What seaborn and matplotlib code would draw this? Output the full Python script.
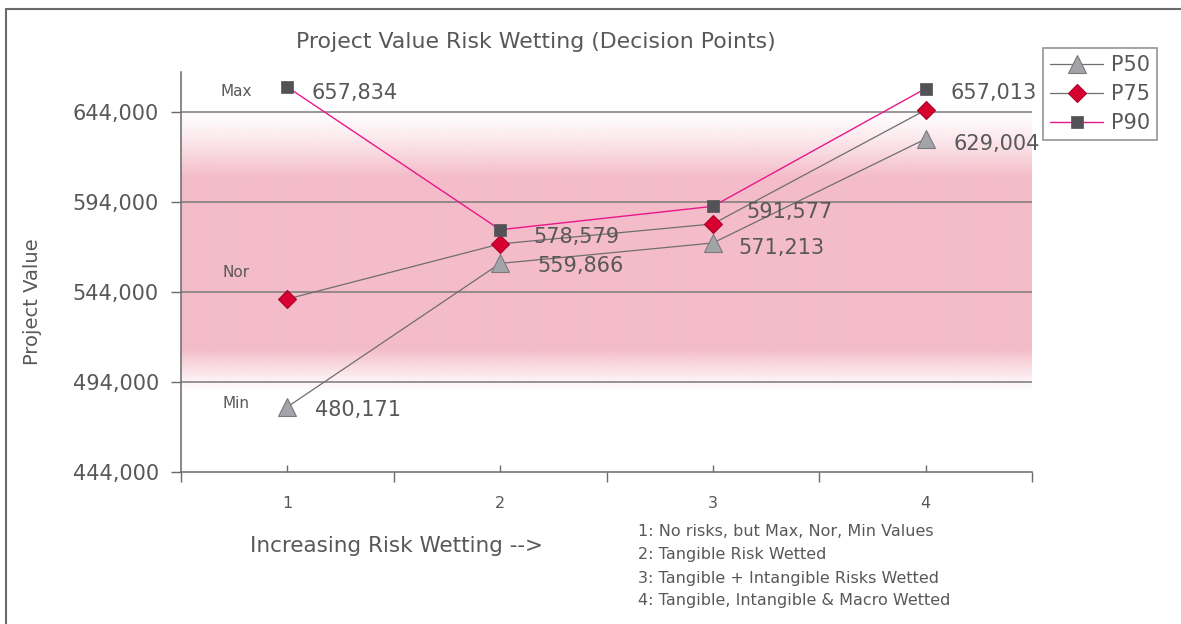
import numpy as np
import pandas as pd
import matplotlib
matplotlib.use("Agg")
import matplotlib.pyplot as plt
from matplotlib.lines import Line2D
import seaborn as sns

# ---- data ----
decision_points = [1, 2, 3, 4]
p50 = [480171, 559866, 571213, 629004]
p75 = [540100, 570700, 581800, 645100]
p90 = [657834, 578579, 591577, 657013]
series_names = ["P50", "P75", "P90"]
y_ticks = [444000, 494000, 544000, 594000, 644000]
range_labels = ["Max", "Nor", "Min"]
notes = ["1: No risks, but Max, Nor, Min Values",
         "2: Tangible Risk Wetted",
         "3: Tangible + Intangible Risks Wetted",
         "4: Tangible, Intangible & Macro Wetted"]
title = "Project Value Risk Wetting (Decision Points)"
x_title = "Increasing Risk Wetting -->"
y_title = "Project Value"

# ---- style ----
sns.set_theme(style="white")
plt.rcParams["font.family"] = ["DejaVu Sans"]
TXT = "#58585a"
GRID = "#7a7a7a"
PINK = (0xF4 / 255, 0xBC / 255, 0xC9 / 255)

W, H = 1181, 624
fig = plt.figure(figsize=(W / 100, H / 100), dpi=100)
fig.patch.set_facecolor("white")
L, R, T, B = 181, 1032, 72, 472
ax = fig.add_axes([L / W, 1 - B / H, (R - L) / W, (B - T) / H])
ax.set_facecolor("white")

ymin, ymax = 444000, 666200
ax.set_xlim(0.5, 4.5)
ax.set_ylim(ymin, ymax)

# gradient band
vals = np.linspace(ymin, ymax, 600)
alpha = np.zeros_like(vals)
top_hi, top_lo, bot_hi, bot_lo = 644300, 608000, 512000, 487500
m = (vals <= top_hi) & (vals > top_lo)
alpha[m] = 0.03 + 0.97 * ((top_hi - vals[m]) / (top_hi - top_lo)) ** 1.3
alpha[(vals <= top_lo) & (vals >= bot_hi)] = 1
m = (vals < bot_hi) & (vals >= bot_lo)
alpha[m] = ((vals[m] - bot_lo) / (bot_hi - bot_lo)) ** 1.3
img = np.zeros((len(vals), 1, 4))
img[:, 0, 0], img[:, 0, 1], img[:, 0, 2] = PINK
img[:, 0, 3] = alpha
ax.imshow(img, extent=[0.5, 4.5, ymin, ymax], origin="lower", aspect="auto",
          zorder=0, interpolation="bilinear")

# grid
for yv in y_ticks[1:]:
    ax.axhline(yv, color=GRID, lw=1.1, zorder=1)

df = pd.DataFrame({"point": decision_points, "P50": p50, "P75": p75, "P90": p90})

sns.lineplot(data=df, x="point", y="P50", ax=ax, color="#6e6e6e", lw=0.9,
             marker="^", markersize=13, markerfacecolor="#a3a4a8",
             markeredgecolor="#7a7a7e", markeredgewidth=0.8, label=series_names[0], zorder=3)
sns.lineplot(data=df, x="point", y="P75", ax=ax, color="#6e6e6e", lw=0.9,
             marker="D", markersize=9.5, markerfacecolor="#d7002f",
             markeredgecolor="#a8002a", markeredgewidth=0.8, label=series_names[1], zorder=3)
sns.lineplot(data=df, x="point", y="P90", ax=ax, color="#e8178a", lw=1.0,
             marker="s", markersize=9, markerfacecolor="#525257",
             markeredgecolor="#525257", markeredgewidth=0.5, label=series_names[2], zorder=3)

# data labels
p90_off = [(24, -6), (33, -7), (33, -6), (25, -4)]
p50_off = [(28, -3), (37, -3), (25, -5), (28, -5)]
for xv, yv, off in zip(decision_points, p90, p90_off):
    ax.annotate(f"{yv:,}", (xv, yv), xytext=off, textcoords="offset pixels",
                ha="left", va="center", fontsize=15, color=TXT, zorder=4)
for xv, yv, off in zip(decision_points, p50, p50_off):
    ax.annotate(f"{yv:,}", (xv, yv), xytext=off, textcoords="offset pixels",
                ha="left", va="center", fontsize=15, color=TXT, zorder=4)

# Max / Nor / Min
for lab, yv, dy in zip(range_labels, [p90[0], p75[0], p50[0]], [-4, 27, 3]):
    ax.annotate(lab, (decision_points[0], yv), xytext=(-51, dy), textcoords="offset pixels",
                ha="center", va="center", fontsize=11, color=TXT)

# axes styling
for s in ["top", "right"]:
    ax.spines[s].set_visible(False)
for s in ["left", "bottom"]:
    ax.spines[s].set_color("#6a6a6a")
    ax.spines[s].set_linewidth(1.1)

ax.set_yticks(y_ticks)
ax.set_yticklabels([f"{v:,}" for v in y_ticks])
ax.tick_params(axis="y", direction="out", length=7, width=1, color="#6a6a6a",
               pad=9, labelsize=15, labelcolor=TXT, left=True)
ax.set_xticks([0.5, 1.5, 2.5, 3.5, 4.5])
ax.set_xticklabels([])
ax.tick_params(axis="x", which="major", direction="out", length=7, width=1,
               color="#6a6a6a", bottom=True)
ax.set_xticks(decision_points, minor=True)
ax.set_xticklabels([str(d) for d in decision_points], minor=True)
ax.tick_params(axis="x", which="minor", direction="in", length=5, width=1,
               color="#6a6a6a", pad=17, labelsize=11.5, labelcolor=TXT, bottom=True)

ax.set_xlabel(x_title, fontsize=15.5, color=TXT)
ax.xaxis.set_label_coords((396 - L) / (R - L), (B - 546) / (B - T))
ax.xaxis.label.set_va("center")
ax.set_ylabel(y_title, fontsize=14, color=TXT)
ax.yaxis.set_label_coords((33 - L) / (R - L), (B - 302) / (B - T))
ax.yaxis.label.set_va("center")

# legend
leg = ax.legend(loc="upper left", bbox_to_anchor=(1043 / W, 1 - 48 / H),
                bbox_transform=fig.transFigure, borderaxespad=0, frameon=True,
                fancybox=False, edgecolor="#7a7a7a", fontsize=15, handlelength=2.55,
                labelspacing=0.42, handletextpad=0.35, borderpad=0.35)
leg.get_frame().set_linewidth(1.2)
for t in leg.get_texts():
    t.set_color(TXT)

# title and notes
fig.text(536 / W, 1 - 42 / H, title, ha="center", va="center", fontsize=15.8, color=TXT)
for i, n in enumerate(notes):
    fig.text(638 / W, 1 - (532 + 23 * i) / H, n, ha="left", va="center",
             fontsize=11.5, color=TXT)

# outer frame (top and left)
fig.add_artist(Line2D([6 / W, 6 / W], [0, 1 - 9 / H], transform=fig.transFigure,
                      color="#6a6a6a", lw=1.5))
fig.add_artist(Line2D([6 / W, 1], [1 - 9 / H, 1 - 9 / H], transform=fig.transFigure,
                      color="#6a6a6a", lw=1.5))

fig.savefig("out.png", dpi=100)
